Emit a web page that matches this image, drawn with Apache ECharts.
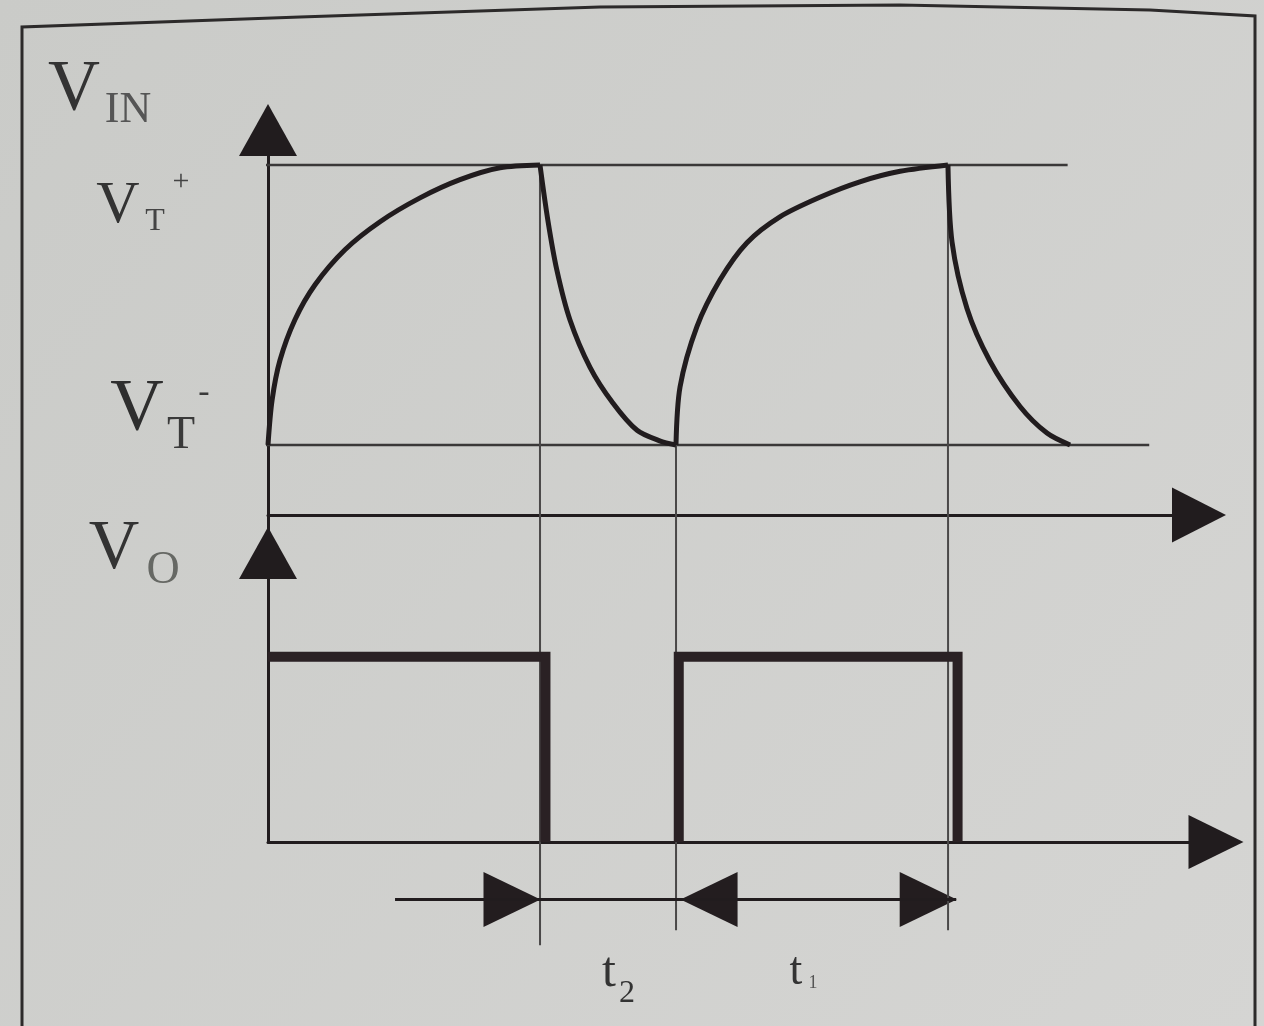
<!DOCTYPE html>
<html>
<head>
<meta charset="utf-8">
<script src="https://cdn.jsdelivr.net/npm/echarts@6/dist/echarts.min.js"></script>
<style>
html,body{margin:0;padding:0;background:#cfcfcc;}
#c{width:1264px;height:1026px;}
</style>
</head>
<body>
<div id="c"></div>
<script>
// ---- data (time in arbitrary units, voltages in arbitrary units) ----
const VT_LOW = 1;          // V_T-
const VT_HIGH = 5;         // V_T+
const switchTimes = [10, 15, 25];           // comparator switching instants
const vtHighLine = [[-0.3, 5], [29.4, 5]];
const vtLowLine = [[-0.1, 1], [32.4, 1]];
const charge1 = [[0,1.0],[0.15,1.64],[0.44,2.21],[0.99,2.79],[1.73,3.29],[2.83,3.79],[4.12,4.19],[5.59,4.53],[7.06,4.79],[8.53,4.96],[10,5.0]];
const discharge1 = [[10,5.0],[10.29,4.21],[10.62,3.5],[11.1,2.79],[11.84,2.11],[12.68,1.6],[13.57,1.21],[14.4,1.06],[15,1.0]];
const charge2 = [[15,1.0],[15.15,1.83],[15.77,2.69],[16.62,3.36],[17.61,3.89],[18.82,4.26],[20.29,4.54],[21.76,4.76],[23.24,4.91],[25,5.0]];
const discharge2 = [[25,5.0],[25.15,3.9],[25.7,2.95],[26.54,2.2],[27.65,1.55],[28.64,1.17],[29.49,1.0]];
const voPulses = [[0, 10.2], [15.1, 25.35]];   // output high intervals
const VO_HIGH = 1;
const guideTop = [5, 1, 5];                 // VIN level where each guide line starts
const guideBottomDepth = [-0.557, -0.476, -0.476];
const spanY = -0.31;
const spanLine = [[4.67, spanY], [25.3, spanY]];
const spanArrows = [
  { t: 10, dir: 'right' },
  { t: 15, dir: 'left' },
  { t: 25.3, dir: 'right' }
];

const INK = '#211c1e';
const THIN = '#3a3838';

const series = [];
function line(grid, data, width, color, extra) {
  series.push(Object.assign({
    type: 'line', xAxisIndex: grid, yAxisIndex: grid, data: data,
    symbol: 'none', clip: false, silent: true,
    lineStyle: { color: color, width: width, cap: 'butt', join: 'miter' }
  }, extra || {}));
}
// threshold lines
line(0, vtHighLine, 2.5, THIN);
line(0, vtLowLine, 2.5, THIN);
// guide lines
switchTimes.forEach((t, i) => {
  line(0, [[t, guideTop[i]], [t, 0]], 2, '#4a4848');
  line(1, [[t, 1.77], [t, guideBottomDepth[i]]], 2, '#4a4848');
});
// capacitor voltage curves
[charge1, discharge1, charge2, discharge2].forEach(d => {
  line(0, d, 5, INK, { smooth: 0.3 });
});
// output square wave
voPulses.forEach(p => {
  const pts = p[0] > 0 ? [[p[0], 0]] : [];
  pts.push([p[0], VO_HIGH], [p[1], VO_HIGH], [p[1], 0]);
  line(1, pts, 10, '#2a2124');
});
// span line + arrows
line(1, spanLine, 3, INK);
series.push({
  type: 'scatter', xAxisIndex: 1, yAxisIndex: 1, silent: true, clip: false,
  data: spanArrows.map(a => ({
    value: [a.t, spanY],
    symbolRotate: a.dir === 'right' ? -90 : 90,
    symbolOffset: [a.dir === 'right' ? -28 : 33, 0]
  })),
  symbol: 'triangle', symbolSize: [55, 57],
  itemStyle: { color: '#231d1f', opacity: 1 }
});

function axisCommon() {
  return {
    axisTick: { show: false }, axisLabel: { show: false },
    splitLine: { show: false }, silent: true
  };
}
const axLine = (size) => ({
  show: true, onZero: true,
  lineStyle: { color: INK, width: 3 },
  symbol: ['none', 'triangle'], symbolSize: size
});

const option = {
  animation: false,
  backgroundColor: {
    type: 'linear', x: 0, y: 0, x2: 1, y2: 1,
    colorStops: [{ offset: 0, color: '#cacbc8' }, { offset: 1, color: '#d5d5d3' }]
  },
  grid: [
    { left: 268, right: 65, top: 130, bottom: 476 },
    { left: 268, right: 48, top: 553, bottom: 184 }
  ],
  xAxis: [
    Object.assign({ gridIndex: 0, type: 'value', min: 0, max: 34.23, axisLine: axLine([55, 54]) }, axisCommon()),
    Object.assign({ gridIndex: 1, type: 'value', min: 0, max: 34.85, axisLine: axLine([54, 55]) }, axisCommon())
  ],
  yAxis: [
    Object.assign({ gridIndex: 0, type: 'value', min: -0.5, max: 5.5, axisLine: axLine([58, 52]) }, axisCommon()),
    Object.assign({ gridIndex: 1, type: 'value', min: 0, max: 1.56, axisLine: axLine([58, 52]) }, axisCommon())
  ],
  series: series,
  graphic: [
    { type: 'polyline', silent: true,
      shape: { points: [[22,1030],[22,27],[300,17],[600,7],[900,5],[1150,10],[1255,16],[1255,1030]] },
      style: { fill: null, stroke: '#2c2a2a', lineWidth: 3 } },
    // V_IN
    { type: 'text', x: 74, y: 90, style: { text: 'V', font: '72px "Liberation Serif"', fill: '#333', align: 'center', verticalAlign: 'middle' } },
    { type: 'text', x: 128, y: 110, style: { text: 'IN', font: '44px "Liberation Serif"', fill: '#555', align: 'center', verticalAlign: 'middle' } },
    // V_T+
    { type: 'text', x: 118, y: 206, style: { text: 'V', font: '60px "Liberation Serif"', fill: '#333', align: 'center', verticalAlign: 'middle' } },
    { type: 'text', x: 155, y: 222, style: { text: 'T', font: '32px "Liberation Serif"', fill: '#444', align: 'center', verticalAlign: 'middle' } },
    { type: 'text', x: 181, y: 182, style: { text: '+', font: '30px "Liberation Serif"', fill: '#444', align: 'center', verticalAlign: 'middle' } },
    // V_T-
    { type: 'text', x: 137, y: 411, style: { text: 'V', font: '74px "Liberation Serif"', fill: '#2e2e2e', align: 'center', verticalAlign: 'middle' } },
    { type: 'text', x: 181, y: 436, style: { text: 'T', font: '46px "Liberation Serif"', fill: '#3a3a3a', align: 'center', verticalAlign: 'middle' } },
    { type: 'text', x: 204, y: 393, style: { text: '-', font: '34px "Liberation Serif"', fill: '#3a3a3a', align: 'center', verticalAlign: 'middle' } },
    // V_O
    { type: 'text', x: 114, y: 550, style: { text: 'V', font: '70px "Liberation Serif"', fill: '#333', align: 'center', verticalAlign: 'middle' } },
    { type: 'text', x: 163, y: 571, style: { text: 'O', font: '46px "Liberation Serif"', fill: '#666864', align: 'center', verticalAlign: 'middle' } },
    // t2, t1
    { type: 'text', x: 609, y: 973, style: { text: 't', font: '50px "Liberation Serif"', fill: '#333', align: 'center', verticalAlign: 'middle' } },
    { type: 'text', x: 627, y: 994, style: { text: '2', font: '32px "Liberation Serif"', fill: '#333', align: 'center', verticalAlign: 'middle' } },
    { type: 'text', x: 796, y: 972, style: { text: 't', font: '46px "Liberation Serif"', fill: '#333', align: 'center', verticalAlign: 'middle' } },
    { type: 'text', x: 813, y: 983, style: { text: '1', font: '18px "Liberation Serif"', fill: '#555', align: 'center', verticalAlign: 'middle' } }
  ]
};

const chart = echarts.init(document.getElementById('c'), null, { renderer: 'canvas' });
chart.setOption(option);
</script>
</body>
</html>
